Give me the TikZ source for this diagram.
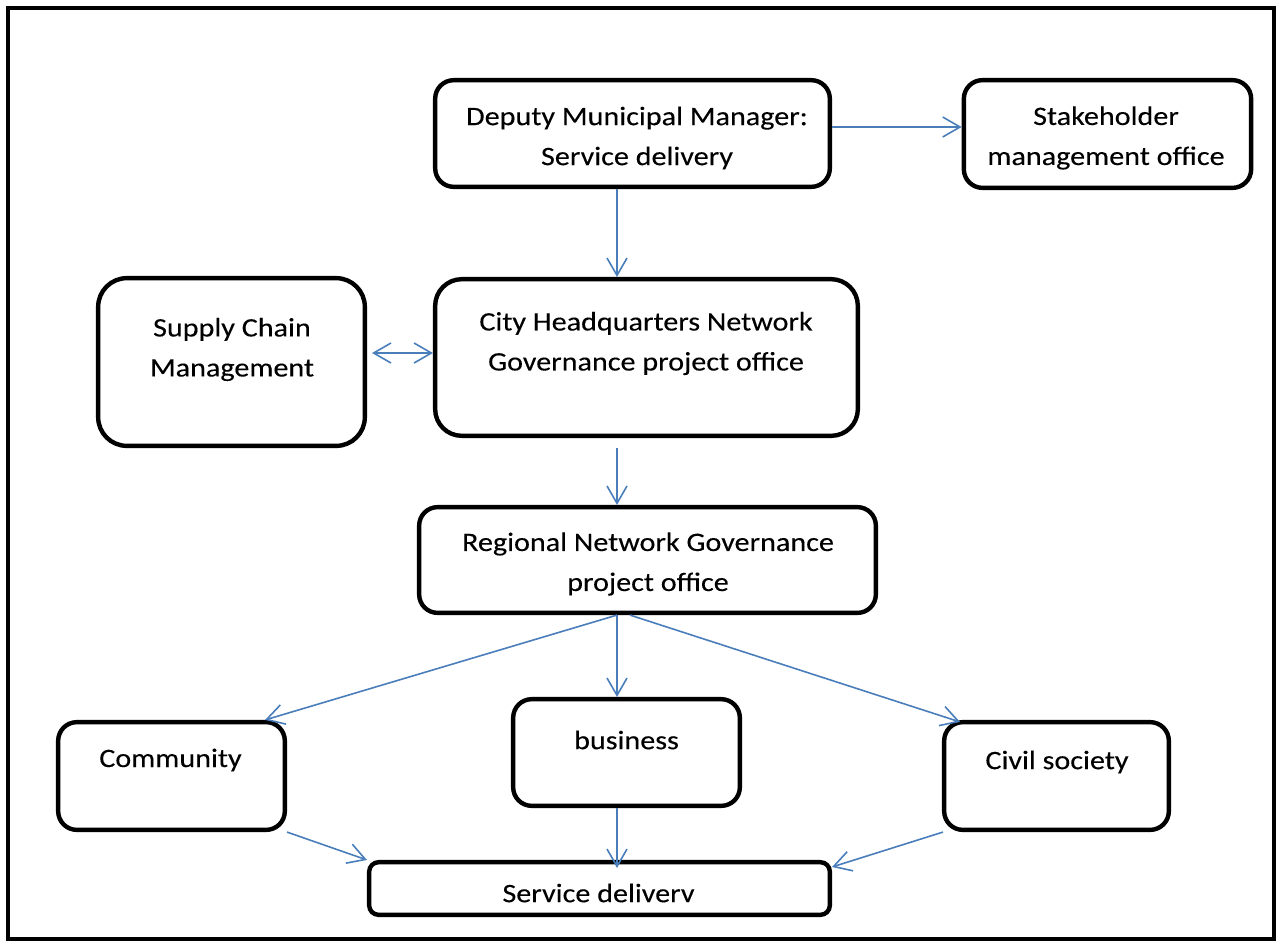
\documentclass[tikz,border=0pt]{standalone}
\usepackage{fontspec}
\setmainfont{Carlito}[FakeStretch=1.13,FakeBold=0.15]
\usetikzlibrary{arrows.meta,calc}
\definecolor{linkblue}{RGB}{74,126,187}
\begin{document}
\begin{tikzpicture}[x=0.75pt,y=-0.75pt,
  box/.style={draw=black, line width=3.3pt, rounded corners=14pt, inner sep=0pt, fill=white},
  lbl/.style={align=center, inner sep=0pt, font=\fontsize{20pt}{30pt}\selectfont},
  link/.style={draw=linkblue, line width=1.2pt, -{Straight Barb[length=13pt,width=15pt]}},
  both/.style={link, {Straight Barb[length=13pt,width=15pt]}-{Straight Barb[length=13pt,width=15pt]}}]

\useasboundingbox (0,0) rectangle (1280,940);
% outer frame
\draw[line width=3pt] (8,8) rectangle (1274,938.5);

% boxes
\node[box, minimum width=296pt,   minimum height=80pt,   rounded corners=13.9pt] (dep)  at (632.5,133.5) {};
\node[box, minimum width=215.5pt, minimum height=80.8pt, rounded corners=14pt]   (stk)  at (1107.5,134) {};
\node[box, minimum width=317pt,   minimum height=117.5pt,rounded corners=20pt]   (city) at (646.5,357.5) {};
\node[box, minimum width=200pt,   minimum height=125.8pt,rounded corners=21.5pt] (scm)  at (231.5,362) {};
\node[box, minimum width=342.5pt, minimum height=79.3pt, rounded corners=13.8pt] (reg)  at (647.5,560) {};
\node[box, minimum width=170pt,   minimum height=80.8pt, rounded corners=14pt]   (com)  at (171.5,776) {};
\node[box, minimum width=170pt,   minimum height=80pt,   rounded corners=13.9pt] (bus)  at (626.5,752.5) {};
\node[box, minimum width=168.5pt, minimum height=80.8pt, rounded corners=14pt]   (civ)  at (1056.5,776) {};
\node[box, minimum width=345.5pt, minimum height=39.5pt, rounded corners=7.1pt]  (srv)  at (599.5,888.5) {};

% labels
\node[lbl] (dep-t)  at (637,138)    {Deputy Municipal Manager:\\Service delivery};
\node[lbl] (stk-t)  at (1106,138)   {Stakeholder\\management office};
\node[lbl] (city-t) at (646,343.5)  {City Headquarters Network\\Governance project office};
\node[lbl] (scm-t)  at (232,349.5)  {Supply Chain\\Management};
\node[lbl] (reg-t)  at (648,564)    {Regional Network Governance\\project office};
\node[lbl] (com-t)  at (170.5,760)  {Community};
\node[lbl] (bus-t)  at (626.5,740)  {business};
\node[lbl] (civ-t)  at (1057,762)   {Civil society};
\node[lbl] (srv-t)  at (598.5,893)  {Service deliverv};

% connectors
\draw[link] ($(dep.east)+(0,-6.5)$) -- ($(stk.west)+(0,-7)$);
\draw[link] ($(dep.south)+(-15.5,0)$) -- ($(city.north)+(-29.5,0)$);
\draw[both] ($(scm.east)+(5,-9)$) -- ($(city.west)+(0,-4.5)$);
\draw[link] ($(city.south)+(-29.5,10)$) -- ($(reg.north)+(-30.5,0)$);
\draw[link] ($(reg.south)+(-30.5,0)$) -- ($(com.north)+(93.5,0)$);
\draw[link] ($(reg.south)+(-30.5,0)$) -- ($(bus.north)+(-9.5,0)$);
\draw[link] ($(reg.south)+(-17.5,0)$) -- ($(civ.north)+(-96.5,2)$);
\draw[link] (com.south east) -- (srv.north west);
\draw[link] ($(bus.south)+(-9.5,0)$) -- ($(srv.north)+(17.5,8)$);
\draw[link] ($(civ.south west)+(1,0)$) -- ($(srv.north east)+(0,7)$);
\end{tikzpicture}
\end{document}
